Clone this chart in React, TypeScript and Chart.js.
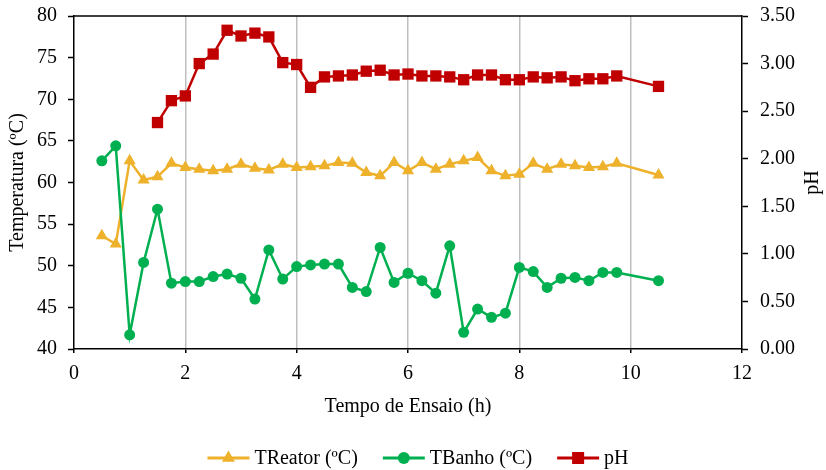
import React, { useEffect, useRef } from "react";
import { Chart, registerables } from "chart.js";

Chart.register(...registerables);

const times = [0.5, 0.75, 1.0, 1.25, 1.5, 1.75, 2.0, 2.25, 2.5, 2.75, 3.0, 3.25, 3.5, 3.75, 4.0, 4.25, 4.5, 4.75, 5.0, 5.25, 5.5, 5.75, 6.0, 6.25, 6.5, 6.75, 7.0, 7.25, 7.5, 7.75, 8.0, 8.25, 8.5, 8.75, 9.0, 9.25, 9.5, 9.75, 10.5];

const tReator = [53.6, 52.6, 62.6, 60.3, 60.7, 62.3, 61.8, 61.6, 61.4, 61.6, 62.2, 61.7, 61.5, 62.2, 61.8, 61.9, 62.0, 62.4, 62.3, 61.2, 60.8, 62.4, 61.4, 62.4, 61.6, 62.2, 62.6, 63.0, 61.4, 60.8, 61.0, 62.3, 61.6, 62.2, 62.0, 61.8, 61.9, 62.3, 60.9];

const tBanho = [62.6, 64.4, 41.7, 50.4, 56.8, 47.9, 48.1, 48.1, 48.7, 49.0, 48.5, 46.0, 51.9, 48.4, 49.9, 50.1, 50.2, 50.2, 47.4, 46.9, 52.2, 48.0, 49.1, 48.2, 46.7, 52.4, 42.0, 44.8, 43.8, 44.3, 49.8, 49.3, 47.4, 48.5, 48.6, 48.2, 49.2, 49.2, 48.2];

const ph: (number | null)[] = [null, null, null, null, 2.38, 2.61, 2.66, 3.0, 3.1, 3.35, 3.29, 3.32, 3.28, 3.01, 2.99, 2.75, 2.86, 2.87, 2.88, 2.92, 2.93, 2.88, 2.89, 2.87, 2.87, 2.86, 2.83, 2.88, 2.88, 2.83, 2.83, 2.86, 2.85, 2.86, 2.82, 2.84, 2.84, 2.87, 2.76];

const seriesNames = ["TReator (ºC)", "TBanho (ºC)", "pH"];
const xAxisTitle = "Tempo de Ensaio (h)";
const yAxisTitle = "Temperatura (ºC)";
const y1AxisTitle = "pH";

const FONT = "'Liberation Serif', 'Times New Roman', serif";
const COL_REATOR = "#EDB12B";
const COL_BANHO = "#00B050";
const COL_PH = "#C00000";

function drawMarker(ctx: CanvasRenderingContext2D, style: string, x: number, y: number, r: number, color: string) {
  ctx.fillStyle = color;
  ctx.beginPath();
  if (style === "triangle") {
    let rad = 0;
    ctx.moveTo(x + Math.sin(rad) * r, y - Math.cos(rad) * r);
    rad += (2 * Math.PI) / 3;
    ctx.lineTo(x + Math.sin(rad) * r, y - Math.cos(rad) * r);
    rad += (2 * Math.PI) / 3;
    ctx.lineTo(x + Math.sin(rad) * r, y - Math.cos(rad) * r);
    ctx.closePath();
  } else if (style === "rect") {
    const s = r * Math.SQRT1_2;
    ctx.rect(x - s, y - s, 2 * s, 2 * s);
  } else {
    ctx.arc(x, y, r, 0, Math.PI * 2);
  }
  ctx.fill();
}

const framePlugin = {
  id: "frameAndLegend",
  afterDraw(chart: any) {
    const { ctx, chartArea } = chart;
    ctx.save();
    ctx.strokeStyle = "#000";
    ctx.lineWidth = 1.5;
    ctx.beginPath();
    ctx.moveTo(chartArea.left, chartArea.top);
    ctx.lineTo(chartArea.right, chartArea.top);
    ctx.stroke();

    // right axis title, reading bottom-to-top
    ctx.save();
    ctx.font = `20px ${FONT}`;
    ctx.fillStyle = "#000";
    ctx.textAlign = "center";
    ctx.textBaseline = "middle";
    ctx.translate(813, (chartArea.top + chartArea.bottom) / 2);
    ctx.rotate(-Math.PI / 2);
    ctx.fillText(y1AxisTitle, 0, 0);
    ctx.restore();

    // legend
    const ds = chart.data.datasets;
    ctx.font = `20px ${FONT}`;
    ctx.textBaseline = "middle";
    const lineLen = 42;
    const gapText = 5;
    const gapItems = 25;
    const widths = ds.map((d: any) => lineLen + gapText + ctx.measureText(d.label).width);
    const total = widths.reduce((a: number, b: number) => a + b, 0) + gapItems * (ds.length - 1);
    let x = 418 - total / 2;
    const y = 458;
    ds.forEach((d: any, i: number) => {
      ctx.strokeStyle = d.borderColor;
      ctx.lineWidth = 3;
      ctx.beginPath();
      ctx.moveTo(x, y);
      ctx.lineTo(x + lineLen, y);
      ctx.stroke();
      drawMarker(ctx, d.pointStyle, x + lineLen / 2, y, d.pointRadius + 0.5, d.pointBackgroundColor);
      ctx.fillStyle = "#000";
      ctx.textAlign = "left";
      ctx.fillText(d.label, x + lineLen + gapText, y + 1);
      x += widths[i] + gapItems;
    });
    ctx.restore();
  },
};

export default function App() {
  const ref = useRef<HTMLCanvasElement | null>(null);

  useEffect(() => {
    document.body.style.margin = "0";
    if (!ref.current) return;
    const mk = (arr: (number | null)[]) => times.map((t, i) => ({ x: t, y: arr[i] }));
    const chart = new Chart(ref.current, {
      type: "line",
      data: {
        datasets: [
          {
            label: seriesNames[0],
            data: mk(tReator),
            borderColor: COL_REATOR,
            backgroundColor: COL_REATOR,
            pointBackgroundColor: COL_REATOR,
            pointBorderColor: COL_REATOR,
            pointStyle: "triangle",
            pointRadius: 7,
            pointBorderWidth: 0,
            borderWidth: 2.5,
            tension: 0,
            yAxisID: "y",
            order: 3,
          } as any,
          {
            label: seriesNames[1],
            data: mk(tBanho),
            borderColor: COL_BANHO,
            backgroundColor: COL_BANHO,
            pointBackgroundColor: COL_BANHO,
            pointBorderColor: COL_BANHO,
            pointStyle: "circle",
            pointRadius: 5.5,
            pointBorderWidth: 0,
            borderWidth: 2.5,
            tension: 0,
            yAxisID: "y",
            order: 2,
          } as any,
          {
            label: seriesNames[2],
            data: mk(ph),
            borderColor: COL_PH,
            backgroundColor: COL_PH,
            pointBackgroundColor: COL_PH,
            pointBorderColor: COL_PH,
            pointStyle: "rect",
            pointRadius: 8,
            pointBorderWidth: 0,
            borderWidth: 2.5,
            tension: 0,
            yAxisID: "y1",
            order: 1,
          } as any,
        ],
      },
      options: {
        animation: false,
        responsive: true,
        maintainAspectRatio: false,
        layout: { padding: { top: 16, left: 2, right: 0, bottom: 49 } },
        plugins: { legend: { display: false }, tooltip: { enabled: false } },
        scales: {
          x: {
            type: "linear",
            min: 0,
            max: 12,
            ticks: { stepSize: 2, color: "#000", font: { family: FONT, size: 20 }, padding: 9, maxRotation: 0 },
            grid: {
              color: (c: any) => (c.tick && (c.tick.value === 0 || c.tick.value === 12) ? "rgba(0,0,0,0)" : "#BFBFBF"),
              lineWidth: 1.5,
              drawTicks: true,
              tickLength: 4,
              tickColor: "#000",
              tickWidth: 1.5,
            },
            border: { color: "#000", width: 1.5 },
            title: { display: true, text: xAxisTitle, color: "#000", font: { family: FONT, size: 20 }, padding: { top: 4, bottom: 2 } },
            afterFit: (s: any) => {
              s.height = 72;
            },
          },
          y: {
            position: "left",
            min: 40,
            max: 80,
            ticks: { stepSize: 5, color: "#000", font: { family: FONT, size: 20 }, padding: 11 },
            grid: { drawOnChartArea: false, drawTicks: true, tickLength: 6, tickColor: "#000", tickWidth: 1.5 },
            border: { color: "#000", width: 1.5 },
            title: { display: true, text: yAxisTitle, color: "#000", font: { family: FONT, size: 20 }, padding: { top: 4, bottom: 4 } },
            afterFit: (s: any) => {
              s.width = 72;
              s.paddingTop = 0;
              s.paddingBottom = 0;
            },
          },
          y1: {
            position: "right",
            min: 0,
            max: 3.5,
            ticks: {
              stepSize: 0.5,
              color: "#000",
              font: { family: FONT, size: 20 },
              padding: 12,
              callback: (v: any) => Number(v).toFixed(2),
            },
            grid: { drawOnChartArea: false, drawTicks: true, tickLength: 6, tickColor: "#000", tickWidth: 1.5 },
            border: { color: "#000", width: 1.5 },
            title: { display: false, text: y1AxisTitle },
            afterFit: (s: any) => {
              s.width = 84;
              s.paddingTop = 0;
              s.paddingBottom = 0;
            },
          },
        },
      },
      plugins: [framePlugin],
    });
    return () => chart.destroy();
  }, []);

  return (
    <div style={{ position: "absolute", left: 0, top: 0, width: 826, height: 470 }}>
      <canvas ref={ref} />
    </div>
  );
}
